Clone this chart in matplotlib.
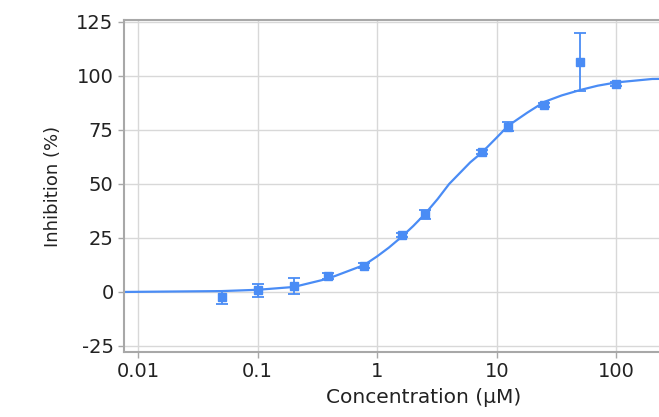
import matplotlib
matplotlib.use('Agg')
import matplotlib.pyplot as plt
from matplotlib.ticker import FixedLocator, NullLocator

plt.rcParams['axes.unicode_minus'] = False

# measured points
conc = [0.05, 0.1, 0.2, 0.39, 0.78, 1.6, 2.5, 7.5, 12.5, 25, 50, 100]
inhib = [-2.5, 0.7, 2.7, 7.4, 12.2, 26.4, 36.0, 64.8, 76.5, 86.5, 106.5, 96.3]
err = [3.0, 3.0, 3.8, 1.5, 1.0, 1.0, 2.0, 1.0, 2.0, 1.0, 13.5, 0.8]

# fitted curve
curve_x = [0.0076, 0.05, 0.1, 0.2, 0.39, 0.78, 1.0, 1.25, 1.6, 2.0, 2.5,
           3.2, 4.0, 5.0, 6.0, 7.5, 10, 12.5, 18, 25, 35, 50, 70, 100,
           200, 800]
curve_y = [0, 0.4, 1.0, 2.3, 6.2, 12.5, 16.5, 20.5, 25.5, 30.5, 36.0,
           43.0, 50.0, 55.5, 60.0, 64.5, 71.5, 77.0, 83.0, 88.0, 91.0,
           93.5, 95.5, 97.0, 98.6, 99.0]

xticks = [0.01, 0.1, 1, 10, 100]
xticklabels = ['0.01', '0.1', '1', '10', '100']
yticks = [-25, 0, 25, 50, 75, 100, 125]

blue = '#4a8cf5'
grey = '#a8a8a8'

fig = plt.figure(figsize=(6.59, 4.17), dpi=100)
ax = fig.add_axes([124/659, 65/417, 600/659, 332/417])

ax.plot(curve_x, curve_y, color=blue, linewidth=1.6)
ax.errorbar(conc, inhib, yerr=err, fmt='s', color=blue, ecolor=blue,
            markersize=5.5, elinewidth=1.3, capsize=4, capthick=1.3)

ax.set_xscale('log')
ax.set_xlim(0.00762, 796)
ax.set_ylim(-27.8, 125.9)
ax.xaxis.set_major_locator(FixedLocator(xticks))
ax.xaxis.set_minor_locator(NullLocator())
ax.set_xticklabels(xticklabels)
ax.set_yticks(yticks)

ax.grid(True, color='#d8d8d8', linewidth=1)
ax.set_axisbelow(True)
for s in ['left', 'top', 'bottom', 'right']:
    ax.spines[s].set_color(grey)
    ax.spines[s].set_linewidth(1.5)

ax.tick_params(axis='both', colors=grey, labelcolor='#222222',
               labelsize=14, length=4, width=1)

ax.set_xlabel('Concentration (µM)', fontsize=14.5, color='#222222', labelpad=5)
ax.set_ylabel('Inhibition (%)', fontsize=13, color='#222222', labelpad=10)

plt.savefig('out.png', dpi=100)
